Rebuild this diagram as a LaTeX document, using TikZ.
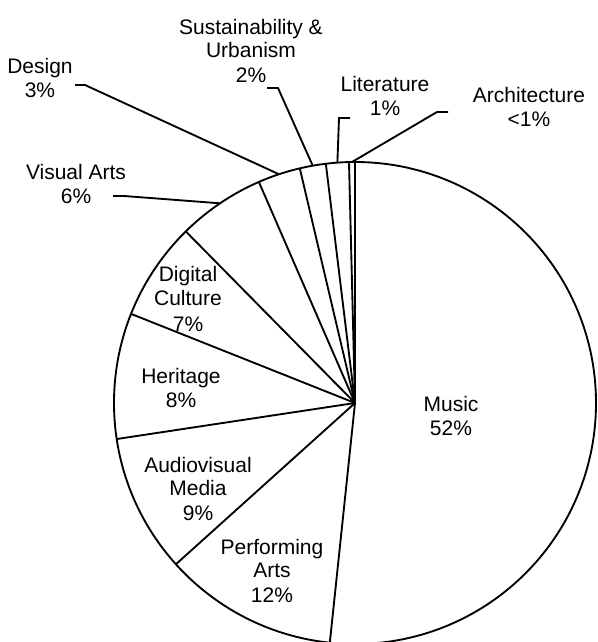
\documentclass[tikz,border=0pt]{standalone}
\usepackage{fontspec}
\setmainfont{Liberation Sans}
\begin{document}
\begin{tikzpicture}[x=0.75pt,y=0.75pt,
  pieline/.style={line width=1.4pt, black},
  leader/.style={line width=1.4pt, black},
  lbl/.style={align=center, font=\fontsize{15.75}{17.5}\selectfont, inner sep=0pt}]
\useasboundingbox (0,0) rectangle (598,642);
\coordinate (C) at (355,239);
\draw[pieline] (C) circle (241);
\foreach \a in {90,-96,-138,-171.4,158.3,134.6,113.5,103.24,96.95,91.43}
  \draw[pieline] (C) -- ([shift={(\a:241)}]C);
% arc points for leaders
\coordinate (pVA) at ([shift={(124.05:241)}]C);
\coordinate (pDes) at ([shift={(108.37:241)}]C);
\coordinate (pSus) at ([shift={(100.1:241)}]C);
\coordinate (pLit) at ([shift={(94.19:241)}]C);
\coordinate (pArch) at ([shift={(90.72:241)}]C);
% labels
\node[lbl] (music) at (451,226) {Music\\52\%};
\node[lbl] (pa) at (272,71) {Performing\\Arts\\[1.5pt]12\%};
\node[lbl] (av) at (198,153) {Audiovisual\\Media\\[1.5pt]9\%};
\node[lbl] (her) at (181,254) {Heritage\\8\%};
\node[lbl] (dc) at (188,343) {Digital\\Culture\\[2pt]7\%};
\node[lbl] (va) at (76,458) {Visual Arts\\6\%};
\node[lbl] (des) at (40,564) {Design\\3\%};
\node[lbl] (sus) at (251,591) {Sustainability \&\\Urbanism\\[1.5pt]2\%};
\node[lbl] (lit) at (385,546) {Literature\\1\%};
\node[lbl] (arch) at (529,535) {Architecture\\<1\%};
% leaders
\coordinate (vaA) at (113,446);  \coordinate (vaB) at (124,446);
\coordinate (desA) at (75,557);  \coordinate (desB) at (85,557);
\coordinate (susA) at (267,554); \coordinate (susB) at (278,554);
\coordinate (litA) at (350,524); \coordinate (litB) at (339,524);
\coordinate (archA) at (448,530); \coordinate (archB) at (437,530);
\draw[leader] (vaA) -- (vaB) -- (pVA);
\draw[leader] (desA) -- (desB) -- (pDes);
\draw[leader] (susA) -- (susB) -- (pSus);
\draw[leader] (litA) -- (litB) -- (pLit);
\draw[leader] (archA) -- (archB) -- (pArch);
\end{tikzpicture}
\end{document}
